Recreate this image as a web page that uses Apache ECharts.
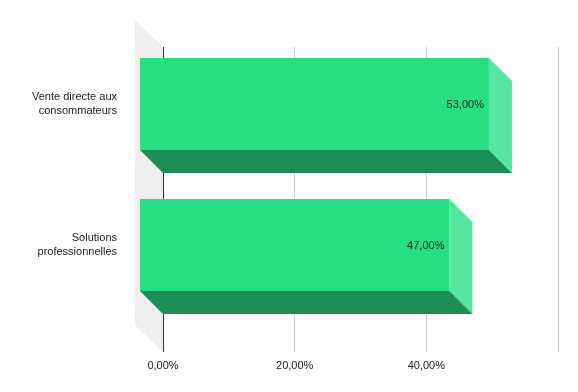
<!DOCTYPE html>
<html>
<head>
<meta charset="utf-8">
<style>
  html, body { margin: 0; padding: 0; background: #ffffff; }
  #chart { width: 578px; height: 392px; }
</style>
<script src="https://cdn.jsdelivr.net/npm/echarts@6/dist/echarts.min.js"></script>
</head>
<body>
<div id="chart"></div>
<script>
// ---- data ----
const categories = ['Vente directe aux\nconsommateurs', 'Solutions\nprofessionnelles'];
const shares = [53, 47];           // percent
const axisMin = 0;
const axisMax = 60;
const axisStep = 20;

// ---- styling ----
const FONT = "'Liberation Sans', Arial, sans-serif";
const DEPTH = 23;
const FRONT = '#27df83';
const SIDE = '#55e59c';
const BOTTOM = '#1c8e54';
const fmt = v => v.toFixed(2).replace('.', ',') + '%';

const chart = echarts.init(document.getElementById('chart'), null, { renderer: 'canvas' });

const option = {
  animation: false,
  backgroundColor: '#ffffff',
  textStyle: { fontFamily: FONT },
  grid: [
    { left: 163, width: 395, top: 47, bottom: 40, containLabel: false },
    { left: 140, width: 395, top: 33.5, height: 282, containLabel: false }
  ],
  graphic: {
    elements: [{
      type: 'polygon', z: -10, silent: true,
      shape: { points: [[135, 20], [163, 47], [163, 352], [135, 325]] },
      style: { fill: '#efefef' }
    }]
  },
  xAxis: [
    {
      gridIndex: 0, type: 'value', min: axisMin, max: axisMax, interval: axisStep,
      axisLine: { show: false }, axisTick: { show: false },
      splitLine: { show: true, lineStyle: { color: ['#333333', '#cccccc', '#cccccc', '#cccccc'], width: 1 } },
      axisLabel: { show: true, showMaxLabel: false, margin: 8, color: '#222222', fontSize: 11, fontFamily: FONT, formatter: v => fmt(v) }
    },
    {
      gridIndex: 1, type: 'value', min: axisMin, max: axisMax, interval: axisStep,
      show: false
    }
  ],
  yAxis: [
    { gridIndex: 0, type: 'category', data: categories, inverse: true, show: false },
    {
      gridIndex: 1, type: 'category', data: categories, inverse: true,
      axisLine: { show: false }, axisTick: { show: false }, splitLine: { show: false },
      axisLabel: {
        margin: 23, color: '#222222', fontSize: 11, fontFamily: FONT,
        lineHeight: 14, align: 'right'
      }
    }
  ],
  series: [{
    type: 'custom',
    xAxisIndex: 1, yAxisIndex: 1,
    clip: false,
    encode: { x: 1, y: 0 },
    data: shares.map((v, i) => [i, v]),
    renderItem: function (params, api) {
      const idx = api.value(0);
      const val = api.value(1);
      const p0 = api.coord([axisMin, idx]);
      const p1 = api.coord([val, idx]);
      const band = api.size([0, 1])[1];
      const h = band * 0.652;
      const x0 = p0[0], x1 = p1[0], yc = p0[1];
      const top = yc - h / 2, bot = yc + h / 2;
      const d = DEPTH;
      return {
        type: 'group',
        children: [
          { type: 'polygon', shape: { points: [[x1, top], [x1 + d, top + d], [x1 + d, bot + d], [x1, bot]] }, style: { fill: SIDE } },
          { type: 'polygon', shape: { points: [[x0, bot], [x1, bot], [x1 + d, bot + d], [x0 + d, bot + d]] }, style: { fill: BOTTOM } },
          { type: 'rect', shape: { x: x0, y: top, width: x1 - x0, height: h }, style: { fill: FRONT } },
          { type: 'text', x: x1 - 5, y: yc + 1, style: { text: fmt(val), fill: '#222222', font: '11px ' + FONT, align: 'right', verticalAlign: 'middle' } }
        ]
      };
    }
  }]
};
chart.setOption(option);
</script>
</body>
</html>
